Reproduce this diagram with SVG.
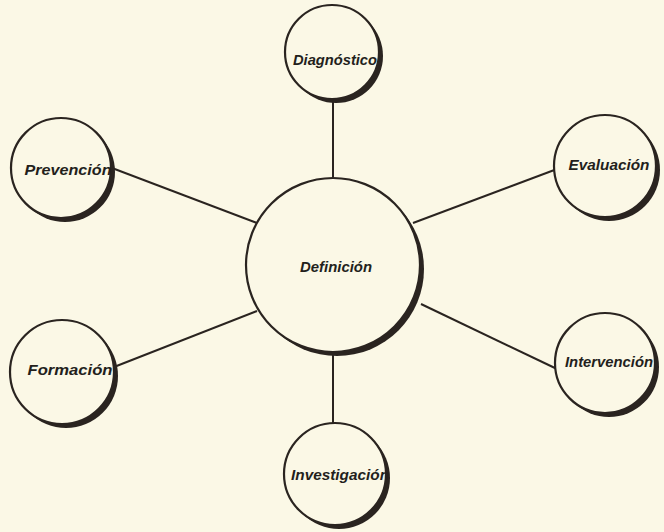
<svg xmlns="http://www.w3.org/2000/svg" width="664" height="532" viewBox="0 0 664 532">
<style>
.bg{fill:#fbf8e6}
.edge{stroke:#2a2420;stroke-width:2;fill:none}
.shadow{fill:#2a2420}
.node{fill:#fbf8e6;stroke:#2a2420;stroke-width:2.2}
.label{font-family:"Liberation Sans",Arial,sans-serif;font-weight:bold;font-style:italic;font-size:15.5px;fill:#231f1c;text-anchor:middle}
</style>
<rect class="bg" x="0" y="0" width="664" height="532"/>
<g id="connectors">
<line class="edge" x1="333" y1="98" x2="333" y2="179"/>
<line class="edge" x1="112" y1="168" x2="257" y2="223"/>
<line class="edge" x1="557" y1="169" x2="413" y2="223"/>
<line class="edge" x1="114" y1="367" x2="257" y2="311"/>
<line class="edge" x1="421" y1="304" x2="557" y2="369"/>
<line class="edge" x1="333" y1="350" x2="333" y2="424"/>
</g>
<g id="definicion">
<circle class="shadow" cx="337" cy="269" r="87"/>
<circle class="node" cx="333" cy="265" r="87"/>
<text class="label" x="336" y="272" textLength="72" lengthAdjust="spacingAndGlyphs">Definición</text>
</g>
<g id="diagnostico">
<circle class="shadow" cx="336" cy="56" r="47"/>
<circle class="node" cx="332" cy="52" r="47"/>
<text class="label" x="335" y="65" textLength="84" lengthAdjust="spacingAndGlyphs">Diagnóstico</text>
</g>
<g id="prevencion">
<circle class="shadow" cx="65" cy="172" r="50"/>
<circle class="node" cx="61" cy="168" r="50"/>
<text class="label" x="68" y="175" textLength="87" lengthAdjust="spacingAndGlyphs">Prevención</text>
</g>
<g id="evaluacion">
<circle class="shadow" cx="609" cy="170" r="51"/>
<circle class="node" cx="605" cy="166" r="51"/>
<text class="label" x="609" y="170" textLength="81" lengthAdjust="spacingAndGlyphs">Evaluación</text>
</g>
<g id="formacion">
<circle class="shadow" cx="66" cy="376" r="52"/>
<circle class="node" cx="62" cy="372" r="52"/>
<text class="label" x="70" y="375" textLength="85" lengthAdjust="spacingAndGlyphs">Formación</text>
</g>
<g id="intervencion">
<circle class="shadow" cx="609" cy="367" r="50"/>
<circle class="node" cx="605" cy="363" r="50"/>
<text class="label" x="609" y="367" textLength="88" lengthAdjust="spacingAndGlyphs">Intervención</text>
</g>
<g id="investigacion">
<circle class="shadow" cx="339" cy="478" r="51"/>
<circle class="node" cx="335" cy="474" r="51"/>
<text class="label" x="340" y="480" textLength="98" lengthAdjust="spacingAndGlyphs">Investigación</text>
</g>
</svg>
